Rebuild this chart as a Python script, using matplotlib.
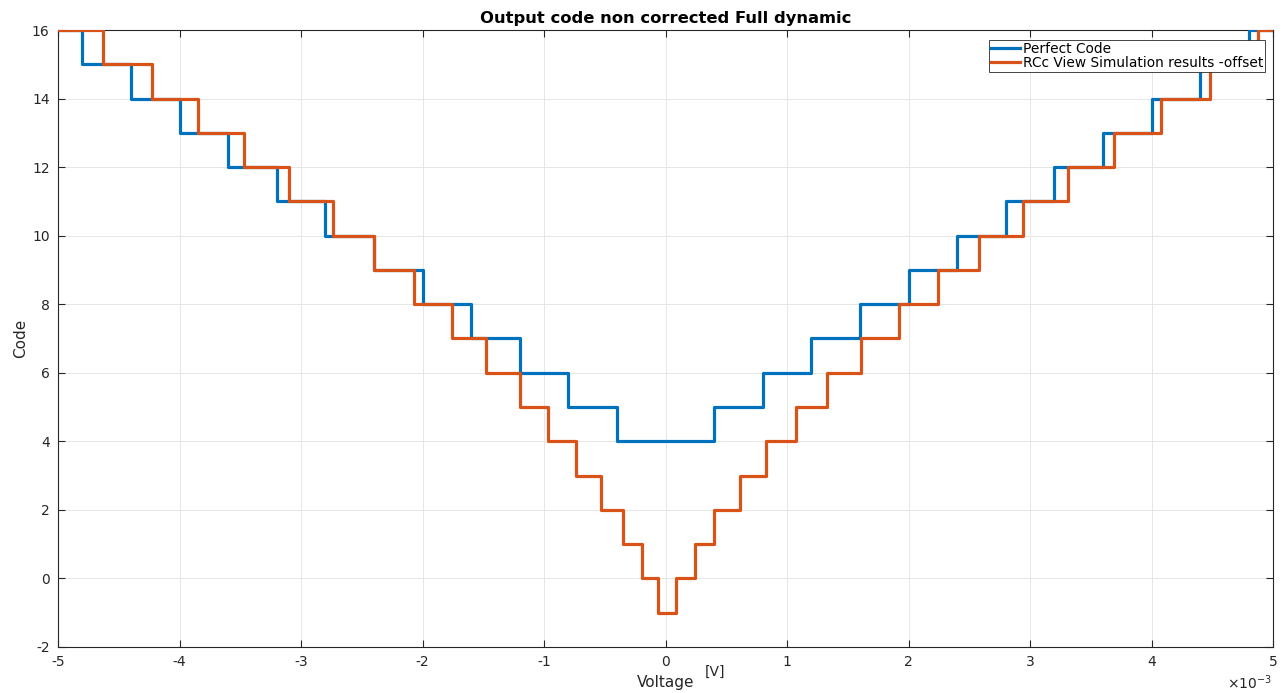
import matplotlib
matplotlib.use("Agg")
import matplotlib.pyplot as plt
import numpy as np

# Perfect code: transition voltages (x1e-3 V) and code levels
perfect_edges = [-5.0, -4.8, -4.4, -4.0, -3.6, -3.2, -2.8, -2.4, -2.0, -1.6, -1.2, -0.8, -0.4,
                 0.4, 0.8, 1.2, 1.6, 2.0, 2.4, 2.8, 3.2, 3.6, 4.0, 4.4, 4.8, 5.0]
perfect_codes = [16, 15, 14, 13, 12, 11, 10, 9, 8, 7, 6, 5, 4,
                 5, 6, 7, 8, 9, 10, 11, 12, 13, 14, 15, 16, 16]

# Simulation results (offset): transition voltages (x1e-3 V) and code levels
sim_edges = [-5.0, -4.63, -4.23, -3.85, -3.47, -3.10, -2.74, -2.40, -2.07, -1.76, -1.48, -1.20,
             -0.97, -0.74, -0.53, -0.35, -0.19, -0.06,
             0.09, 0.24, 0.40, 0.61, 0.83, 1.07, 1.33, 1.61, 1.92, 2.24, 2.58, 2.94, 3.31,
             3.69, 4.08, 4.48, 4.88, 5.0]
sim_codes = [16, 15, 14, 13, 12, 11, 10, 9, 8, 7, 6, 5, 4, 3, 2, 1, 0, -1,
             0, 1, 2, 3, 4, 5, 6, 7, 8, 9, 10, 11, 12, 13, 14, 15, 16, 16]

x_ticks = [-5, -4, -3, -2, -1, 0, 1, 2, 3, 4, 5]
x_tick_labels = ['-5', '-4', '-3', '-2', '-1', '0', '1', '2', '3', '4', '5']
y_ticks = [-2, 0, 2, 4, 6, 8, 10, 12, 14, 16]
y_tick_labels = ['-2', '0', '2', '4', '6', '8', '10', '12', '14', '16']

blue = "#0072BD"
orange = "#D95319"
axcol = "#262626"

plt.rcParams['font.family'] = ['DejaVu Sans']
plt.rcParams['axes.unicode_minus'] = False

fig = plt.figure(figsize=(12.85, 6.93), dpi=100)
ax = fig.add_axes([58/1285, 1-647/693, (1273-58)/1285, (647-30)/693])

scale = 1e-3
ax.step(np.array(perfect_edges)*scale, perfect_codes, where='post', color=blue, lw=2.3,
        label='Perfect Code', zorder=3)
ax.step(np.array(sim_edges)*scale, sim_codes, where='post', color=orange, lw=2.3,
        label='RCc View Simulation results -offset', zorder=4)

ax.set_xlim(-5e-3, 5e-3)
ax.set_ylim(-2, 16)
ax.set_xticks(np.array(x_ticks)*scale)
ax.set_xticklabels(x_tick_labels)
ax.set_yticks(y_ticks)
ax.set_yticklabels(y_tick_labels)

ax.grid(True, color='#e6e6e6', lw=0.7)
ax.set_axisbelow(True)
ax.tick_params(direction='in', top=True, right=True, length=5, width=0.8,
               colors=axcol, labelsize=10, pad=6)
for s in ax.spines.values():
    s.set_color(axcol)
    s.set_linewidth(0.8)

# exponent marker
ax.text(0.999, -0.043, r'$\times$10$^{\mathregular{-3}}$', transform=ax.transAxes, fontsize=10,
        color=axcol, ha='right', va='top')

ax.set_title('Output code non corrected Full dynamic', fontsize=11.8, fontweight='bold',
             color='black', pad=5)
ax.set_xlabel('Voltage', fontsize=11, color=axcol, labelpad=4)
ax.text(0.5325, -0.029, '[V]', transform=ax.transAxes, fontsize=10, color=axcol,
        ha='left', va='top')
ax.set_ylabel('Code', fontsize=11, color=axcol, labelpad=3)

leg = ax.legend(loc='upper right', bbox_to_anchor=(0.9934, 0.9838), fontsize=9.9,
                frameon=True, fancybox=False, edgecolor='#262626', framealpha=1,
                handlelength=2.1, handletextpad=0.2, borderpad=0.15, labelspacing=0.0,
                borderaxespad=0)
leg.get_frame().set_linewidth(0.6)

fig.savefig('out.png', dpi=100)
